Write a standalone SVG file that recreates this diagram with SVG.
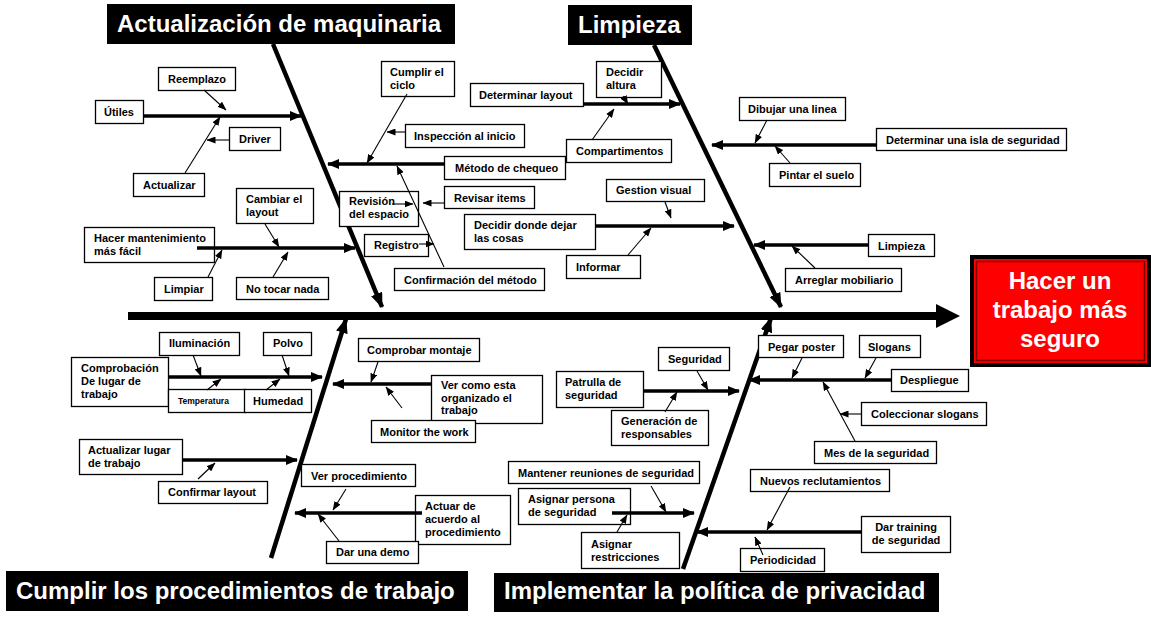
<svg xmlns="http://www.w3.org/2000/svg" width="1151" height="620" viewBox="0 0 1151 620">
<style>
.box{fill:#fff;stroke:#000;stroke-width:1.3}
.t{font-family:"Liberation Sans",Arial,sans-serif;font-weight:bold;font-size:11px;fill:#000}
.ts{font-family:"Liberation Sans",Arial,sans-serif;font-weight:bold;font-size:8.5px;fill:#000}
.hd{fill:#000}
.ht{font-family:"Liberation Sans",Arial,sans-serif;font-weight:bold;font-size:24px;fill:#fff}
.bone{stroke:#000;stroke-width:4.5;fill:none;marker-end:url(#mBone)}
.br{stroke:#000;stroke-width:3.5;fill:none;marker-end:url(#mBr)}
.th{stroke:#000;stroke-width:1.1;fill:none;marker-end:url(#mTh)}
</style>
<defs>
<marker id="mBone" markerUnits="userSpaceOnUse" markerWidth="15" markerHeight="12" refX="14" refY="6" orient="auto"><path d="M0,0 L15,6 L0,12 z" fill="#000"/></marker>
<marker id="mBr" markerUnits="userSpaceOnUse" markerWidth="12" markerHeight="10" refX="11" refY="5" orient="auto"><path d="M0,0 L12,5 L0,10 z" fill="#000"/></marker>
<marker id="mTh" markerUnits="userSpaceOnUse" markerWidth="9" markerHeight="7" refX="8.5" refY="3.5" orient="auto"><path d="M0,0 L9,3.5 L0,7 z" fill="#000"/></marker>
</defs>
<rect width="1151" height="620" fill="#fff"/>

<g id="spine">
<line x1="128" y1="316" x2="938" y2="316" stroke="#000" stroke-width="8"/>
<polygon points="936,304 960,316 936,328" fill="#000"/>
</g>

<g id="bones">
<line class="bone" x1="273" y1="44" x2="382" y2="307"/>
<line class="bone" x1="654" y1="45" x2="781" y2="307"/>
<line class="bone" x1="271" y1="558" x2="346" y2="319"/>
<line class="bone" x1="683" y1="569" x2="771" y2="318"/>
</g>

<g id="head-maquinaria"><rect class="hd" x="107" y="4" width="348" height="40"/><text class="ht" x="117" y="32">Actualización de maquinaria</text></g>
<g id="head-limpieza"><rect class="hd" x="568" y="5" width="124" height="40"/><text class="ht" x="578" y="33">Limpieza</text></g>
<g id="head-cumplir"><rect class="hd" x="6" y="571" width="462" height="40"/><text class="ht" x="16" y="599">Cumplir los procedimientos de trabajo</text></g>
<g id="head-implementar"><rect class="hd" x="494" y="573" width="445" height="39"/><text class="ht" x="504" y="599">Implementar la política de privacidad</text></g>

<g id="result">
<rect x="970" y="255" width="181" height="112" fill="#000"/>
<rect x="974" y="259" width="173" height="104" fill="#ff0000"/>
<rect x="976.5" y="261.5" width="168" height="99" fill="none" stroke="#7a0000" stroke-width="1.5"/>
<text class="ht" text-anchor="middle" x="1060" y="289">Hacer un<tspan x="1060" dy="29">trabajo más</tspan><tspan x="1060" dy="29">seguro</tspan></text>
</g>

<g id="n-utiles"><rect class="box" x="95.5" y="100.5" width="48" height="23"/><text class="t" x="104" y="116">Útiles</text></g>
<g id="n-reemplazo"><rect class="box" x="158.5" y="67.5" width="77" height="23"/><text class="t" x="168" y="83">Reemplazo</text></g>
<g id="n-driver"><rect class="box" x="229.5" y="127.5" width="51" height="23"/><text class="t" x="239" y="143">Driver</text></g>
<g id="n-actualizar"><rect class="box" x="133.5" y="173.5" width="71" height="23"/><text class="t" x="143" y="189">Actualizar</text></g>
<g id="n-cambiar"><rect class="box" x="236.5" y="188.5" width="77" height="35"/><text class="t" x="246" y="203">Cambiar el<tspan x="246" dy="13">layout</tspan></text></g>
<g id="n-hacer"><rect class="box" x="84.5" y="227.5" width="130" height="35"/><text class="t" x="94" y="242">Hacer mantenimiento<tspan x="94" dy="13">más fácil</tspan></text></g>
<g id="n-limpiar"><rect class="box" x="154.5" y="277.5" width="58" height="23"/><text class="t" x="164" y="293">Limpiar</text></g>
<g id="n-notocar"><rect class="box" x="236.5" y="277.5" width="92" height="22"/><text class="t" x="246" y="293">No tocar nada</text></g>
<g id="n-cumplir"><rect class="box" x="381.5" y="61.5" width="73" height="35"/><text class="t" x="390" y="76">Cumplir el<tspan x="390" dy="13">ciclo</tspan></text></g>
<g id="n-inspeccion"><rect class="box" x="405.5" y="124.5" width="119" height="23"/><text class="t" x="414" y="140">Inspección al inicio</text></g>
<g id="n-metodo"><rect class="box" x="444.5" y="156.5" width="121" height="23"/><text class="t" x="455" y="172">Método de chequeo</text></g>
<g id="n-revision"><rect class="box" x="339.5" y="191.5" width="79" height="35"/><text class="t" x="349" y="205">Revisión<tspan x="349" dy="13">del espacio</tspan></text></g>
<g id="n-revisar"><rect class="box" x="444.5" y="186.5" width="90" height="22"/><text class="t" x="454" y="202">Revisar items</text></g>
<g id="n-registro"><rect class="box" x="364.5" y="234.5" width="64" height="22"/><text class="t" x="374" y="249">Registro</text></g>
<g id="n-confirmacion"><rect class="box" x="394.5" y="268.5" width="150" height="22"/><text class="t" x="404" y="284">Confirmación del método</text></g>
<g id="n-detlayout"><rect class="box" x="470.5" y="83.5" width="113" height="23"/><text class="t" x="479" y="99">Determinar layout</text></g>
<g id="n-decidir"><rect class="box" x="596.5" y="61.5" width="65" height="36"/><text class="t" x="606" y="76">Decidir<tspan x="606" dy="13">altura</tspan></text></g>
<g id="n-compart"><rect class="box" x="566.5" y="139.5" width="105" height="23"/><text class="t" x="576" y="155">Compartimentos</text></g>
<g id="n-gestion"><rect class="box" x="606.5" y="179.5" width="98" height="22"/><text class="t" x="616" y="194">Gestion visual</text></g>
<g id="n-decidirdonde"><rect class="box" x="464.5" y="214.5" width="131" height="35"/><text class="t" x="474" y="229">Decidir donde dejar<tspan x="474" dy="13">las cosas</tspan></text></g>
<g id="n-informar"><rect class="box" x="566.5" y="255.5" width="74" height="23"/><text class="t" x="576" y="271">Informar</text></g>
<g id="n-dibujar"><rect class="box" x="739.5" y="97.5" width="106" height="23"/><text class="t" x="748" y="113">Dibujar una linea</text></g>
<g id="n-isla"><rect class="box" x="876.5" y="128.5" width="190" height="22"/><text class="t" x="886" y="144">Determinar una isla de seguridad</text></g>
<g id="n-pintar"><rect class="box" x="769.5" y="163.5" width="91" height="23"/><text class="t" x="779" y="179">Pintar el suelo</text></g>
<g id="n-limpieza"><rect class="box" x="868.5" y="234.5" width="66" height="22"/><text class="t" x="878" y="250">Limpieza</text></g>
<g id="n-arreglar"><rect class="box" x="785.5" y="268.5" width="116" height="23"/><text class="t" x="795" y="284">Arreglar mobiliario</text></g>
<g id="n-iluminacion"><rect class="box" x="159.5" y="332.5" width="80" height="23"/><text class="t" x="169" y="347">Iluminación</text></g>
<g id="n-polvo"><rect class="box" x="263.5" y="332.5" width="48" height="23"/><text class="t" x="273" y="347">Polvo</text></g>
<g id="n-comprobacion"><rect class="box" x="71.5" y="357.5" width="97" height="49"/><text class="t" x="81" y="372">Comprobación<tspan x="81" dy="13">De lugar de</tspan><tspan x="81" dy="13">trabajo</tspan></text></g>
<g id="n-temperatura"><rect class="box" x="168.5" y="389.5" width="77" height="23"/><text class="ts" x="178" y="404">Temperatura</text></g>
<g id="n-humedad"><rect class="box" x="244.5" y="389.5" width="67" height="23"/><text class="t" x="253" y="405">Humedad</text></g>
<g id="n-compmontaje"><rect class="box" x="358.5" y="338.5" width="121" height="23"/><text class="t" x="367" y="354">Comprobar montaje</text></g>
<g id="n-vercomo"><rect class="box" x="431.5" y="375.5" width="111" height="48"/><text class="t" x="441" y="389">Ver como esta<tspan x="441" dy="12.5">organizado el</tspan><tspan x="441" dy="12.5">trabajo</tspan></text></g>
<g id="n-monitor"><rect class="box" x="371.5" y="420.5" width="104" height="22"/><text class="t" x="380" y="436">Monitor the work</text></g>
<g id="n-actlugar"><rect class="box" x="79.5" y="439.5" width="103" height="35"/><text class="t" x="88" y="454">Actualizar lugar<tspan x="88" dy="13">de trabajo</tspan></text></g>
<g id="n-conflayout"><rect class="box" x="158.5" y="481.5" width="109" height="22"/><text class="t" x="168" y="496">Confirmar layout</text></g>
<g id="n-verproc"><rect class="box" x="301.5" y="464.5" width="114" height="22"/><text class="t" x="311" y="480">Ver procedimiento</text></g>
<g id="n-actuar"><rect class="box" x="415.5" y="495.5" width="95" height="49"/><text class="t" x="425" y="510">Actuar de<tspan x="425" dy="13">acuerdo al</tspan><tspan x="425" dy="13">procedimiento</tspan></text></g>
<g id="n-demo"><rect class="box" x="326.5" y="541.5" width="92" height="22"/><text class="t" x="336" y="556">Dar una demo</text></g>
<g id="n-seguridad"><rect class="box" x="658.5" y="347.5" width="71" height="23"/><text class="t" x="668" y="363">Seguridad</text></g>
<g id="n-patrulla"><rect class="box" x="556.5" y="371.5" width="87" height="36"/><text class="t" x="565" y="386">Patrulla de<tspan x="565" dy="13">seguridad</tspan></text></g>
<g id="n-generacion"><rect class="box" x="611.5" y="410.5" width="97" height="35"/><text class="t" x="621" y="425">Generación de<tspan x="621" dy="13">responsables</tspan></text></g>
<g id="n-pegar"><rect class="box" x="758.5" y="335.5" width="85" height="22"/><text class="t" x="768" y="351">Pegar poster</text></g>
<g id="n-slogans"><rect class="box" x="859.5" y="335.5" width="61" height="22"/><text class="t" x="868" y="351">Slogans</text></g>
<g id="n-despliegue"><rect class="box" x="891.5" y="369.5" width="77" height="22"/><text class="t" x="900" y="384">Despliegue</text></g>
<g id="n-coleccionar"><rect class="box" x="861.5" y="402.5" width="125" height="23"/><text class="t" x="871" y="418">Coleccionar slogans</text></g>
<g id="n-mes"><rect class="box" x="814.5" y="441.5" width="122" height="22"/><text class="t" x="824" y="457">Mes de la seguridad</text></g>
<g id="n-mantener"><rect class="box" x="508.5" y="461.5" width="191" height="22"/><text class="t" x="518" y="477">Mantener reuniones de seguridad</text></g>
<g id="n-asigpersona"><rect class="box" x="518.5" y="488.5" width="112" height="36"/><text class="t" x="528" y="503">Asignar persona<tspan x="528" dy="13">de seguridad</tspan></text></g>
<g id="n-asigrestr"><rect class="box" x="581.5" y="532.5" width="98" height="36"/><text class="t" x="591" y="548">Asignar<tspan x="591" dy="13">restricciones</tspan></text></g>
<g id="n-nuevos"><rect class="box" x="750.5" y="469.5" width="139" height="22"/><text class="t" x="760" y="485">Nuevos reclutamientos</text></g>
<g id="n-training"><rect class="box" x="861.5" y="516.5" width="89" height="36"/><text class="t" text-anchor="middle" x="906" y="531">Dar training<tspan x="906" dy="13">de seguridad</tspan></text></g>
<g id="n-periodicidad"><rect class="box" x="740.5" y="548.5" width="84" height="23"/><text class="t" x="750" y="564">Periodicidad</text></g>

<g id="connectors">
<line class="br" x1="143" y1="116" x2="301" y2="116"/>
<line class="br" x1="197" y1="248" x2="355" y2="248"/>
<line class="br" x1="444" y1="164" x2="328" y2="164"/>
<line class="br" x1="583" y1="104" x2="680" y2="104"/>
<line class="br" x1="595" y1="226" x2="734" y2="226"/>
<line class="br" x1="877" y1="145" x2="712" y2="145"/>
<line class="br" x1="868" y1="245" x2="754" y2="245"/>
<line class="br" x1="168" y1="377" x2="322" y2="377"/>
<line class="br" x1="431" y1="384" x2="333" y2="384"/>
<line class="br" x1="182" y1="460" x2="297" y2="460"/>
<line class="br" x1="422" y1="513" x2="295" y2="513"/>
<line class="br" x1="643" y1="391" x2="739" y2="391"/>
<line class="br" x1="892" y1="380" x2="749" y2="380"/>
<line class="br" x1="612" y1="513" x2="694" y2="513"/>
<line class="br" x1="861" y1="532" x2="697" y2="532"/>

<line class="th" x1="204" y1="90" x2="226" y2="110"/>
<line class="th" x1="229" y1="140" x2="207" y2="140"/>
<line class="th" x1="185" y1="173" x2="220" y2="117"/>
<line class="th" x1="265" y1="224" x2="279" y2="247"/>
<line class="th" x1="208" y1="277" x2="222" y2="250"/>
<line class="th" x1="273" y1="277" x2="288" y2="252"/>
<line class="th" x1="407" y1="94" x2="367" y2="163"/>
<line class="th" x1="405" y1="132" x2="387" y2="132"/>
<line class="th" x1="444" y1="267" x2="397" y2="166"/>
<line class="th" x1="445" y1="203" x2="423" y2="203"/>
<line class="th" x1="392" y1="204" x2="413" y2="204"/>
<line class="th" x1="419" y1="244" x2="434" y2="244"/>
<line class="th" x1="623" y1="96" x2="628" y2="104"/>
<line class="th" x1="592" y1="140" x2="614" y2="109"/>
<line class="th" x1="665" y1="202" x2="671" y2="218"/>
<line class="th" x1="628" y1="255" x2="651" y2="228"/>
<line class="th" x1="767" y1="120" x2="755" y2="143"/>
<line class="th" x1="790" y1="163" x2="775" y2="146"/>
<line class="th" x1="815" y1="268" x2="792" y2="246"/>
<line class="th" x1="193" y1="355" x2="201" y2="376"/>
<line class="th" x1="282" y1="355" x2="289" y2="376"/>
<line class="th" x1="207" y1="390" x2="221" y2="379"/>
<line class="th" x1="266" y1="390" x2="280" y2="379"/>
<line class="th" x1="378" y1="362" x2="371" y2="382"/>
<line class="th" x1="402" y1="408" x2="386" y2="387"/>
<line class="th" x1="198" y1="479" x2="215" y2="463"/>
<line class="th" x1="346" y1="489" x2="333" y2="510"/>
<line class="th" x1="339" y1="541" x2="318" y2="514"/>
<line class="th" x1="697" y1="371" x2="708" y2="390"/>
<line class="th" x1="665" y1="412" x2="677" y2="392"/>
<line class="th" x1="802" y1="358" x2="792" y2="378"/>
<line class="th" x1="876" y1="358" x2="865" y2="378"/>
<line class="th" x1="855" y1="441" x2="823" y2="382"/>
<line class="th" x1="861" y1="414" x2="840" y2="414"/>
<line class="th" x1="651" y1="486" x2="666" y2="512"/>
<line class="th" x1="617" y1="532" x2="627" y2="515"/>
<line class="th" x1="790" y1="487" x2="767" y2="530"/>
<line class="th" x1="763" y1="555" x2="755" y2="537"/>
</g>
</svg>
